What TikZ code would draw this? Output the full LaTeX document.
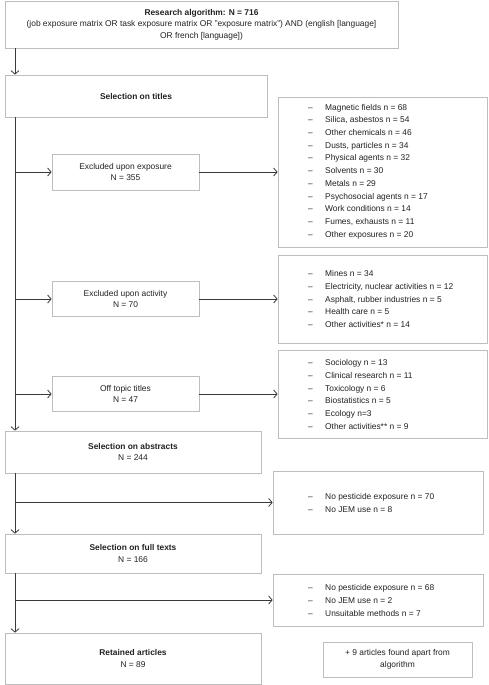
\documentclass[tikz,border=0pt]{standalone}
\usepackage{fontspec}
\setmainfont{Liberation Sans}
\usetikzlibrary{arrows.meta}
\definecolor{boxgray}{HTML}{BDBDBD}
\definecolor{linegray}{HTML}{3A3A3A}
\definecolor{txt}{HTML}{222222}
\begin{document}
\begin{tikzpicture}[x=1pt,y=-1pt,
  font=\fontsize{8.4}{11.5}\selectfont, text=txt,
  box/.style={draw=boxgray, line width=0.7pt, fill=white, align=center, inner sep=0pt},
  listbox/.style={draw=boxgray, line width=0.7pt, fill=white, inner sep=0pt},
  listtext/.style={align=left, anchor=west, inner sep=0pt, font=\fontsize{8.4}{12.7}\selectfont},
  arr/.style={draw=linegray, line width=0.8pt, -{Straight Barb[length=3.5pt,width=8pt,line width=0.8pt]}},
  ln/.style={draw=linegray, line width=0.8pt}]
\useasboundingbox (0,0) rectangle (488,685);
\fill[white] (0,0) rectangle (488,685);
\newcommand{\dashitem}[1]{\makebox[17pt][l]{--}#1}

% main column boxes
\node[box, minimum width=393pt, minimum height=47pt] (top) at (201.5,24.5)
 {{\bfseries Research algorithm: N = 716}\\(job exposure matrix OR task exposure matrix OR "exposure matrix") AND (english [language]\\OR french [language])};
\node[box, minimum width=262pt, minimum height=42pt] (titles) at (136,96) {\bfseries Selection on titles};
\node[box, minimum width=147pt, minimum height=36pt] (exc1) at (125.5,172) {Excluded upon exposure\\N = 355};
\node[box, minimum width=147pt, minimum height=35pt] (exc2) at (125.5,299) {Excluded upon activity\\N = 70};
\node[box, minimum width=147pt, minimum height=35pt] (exc3) at (125.5,394) {Off topic titles\\N = 47};
\node[box, minimum width=256pt, minimum height=42pt] (abs) at (133,452) {{\bfseries Selection on abstracts}\\N = 244};
\node[box, minimum width=256pt, minimum height=39pt] (full) at (133,553.5) {{\bfseries Selection on full texts}\\N = 166};
\node[box, minimum width=256pt, minimum height=51pt] (ret) at (133,658.5) {{\bfseries Retained articles}\\N = 89};
\node[box, minimum width=149pt, minimum height=35pt] (extra) at (397.5,659.5) {+ 9 articles found apart from\\algorithm};

% list boxes
\node[listbox, minimum width=209pt, minimum height=150pt] (l1) at (382.5,172) {};
\node[listbox, minimum width=209pt, minimum height=88pt] (l2) at (382.5,299) {};
\node[listbox, minimum width=209pt, minimum height=88pt] (l3) at (382.5,394) {};
\node[listbox, minimum width=210pt, minimum height=63pt] (l4) at (378,502.5) {};
\node[listbox, minimum width=210pt, minimum height=52pt] (l5) at (378,600) {};

\node[listtext] (t1) at (308,171.5) {\dashitem{Magnetic fields n = 68}\\\dashitem{Silica, asbestos n = 54}\\\dashitem{Other chemicals n = 46}\\\dashitem{Dusts, particles n = 34}\\\dashitem{Physical agents n = 32}\\\dashitem{Solvents n = 30}\\\dashitem{Metals n = 29}\\\dashitem{Psychosocial agents n = 17}\\\dashitem{Work conditions n = 14}\\\dashitem{Fumes, exhausts n = 11}\\\dashitem{Other exposures n = 20}};
\node[listtext] (t2) at (308,299) {\dashitem{Mines n = 34}\\\dashitem{Electricity, nuclear activities n = 12}\\\dashitem{Asphalt, rubber industries n = 5}\\\dashitem{Health care n = 5}\\\dashitem{Other activities* n = 14}};
\node[listtext] (t3) at (308,394.5) {\dashitem{Sociology n = 13}\\\dashitem{Clinical research n = 11}\\\dashitem{Toxicology n = 6}\\\dashitem{Biostatistics n = 5}\\\dashitem{Ecology n=3}\\\dashitem{Other activities** n = 9}};
\node[listtext] (t4) at (308,503) {\dashitem{No pesticide exposure n = 70}\\\dashitem{No JEM use n = 8}};
\node[listtext] (t5) at (308,600.5) {\dashitem{No pesticide exposure n = 68}\\\dashitem{No JEM use n = 2}\\\dashitem{Unsuitable methods n = 7}};

% trunk
\coordinate (tx) at (15,0);
\draw[arr] (top.south -| tx) -- (titles.north -| tx);
\draw[arr] (titles.south -| tx) -- (abs.north -| tx);
\draw[arr] (exc1.west -| tx) -- (exc1.west);
\draw[arr] (exc2.west -| tx) -- (exc2.west);
\draw[arr] (exc3.west -| tx) -- (exc3.west);
\draw[arr] (exc1.east) -- (l1.west);
\draw[arr] (exc2.east) -- (l2.west);
\draw[arr] (exc3.east) -- (l3.west);
\draw[arr] (abs.south -| tx) -- (full.north -| tx);
\draw[arr] (l4.west -| tx) -- (l4.west);
\draw[arr] (full.south -| tx) -- (ret.north -| tx);
\draw[arr] (l5.west -| tx) -- (l5.west);
\end{tikzpicture}
\end{document}
